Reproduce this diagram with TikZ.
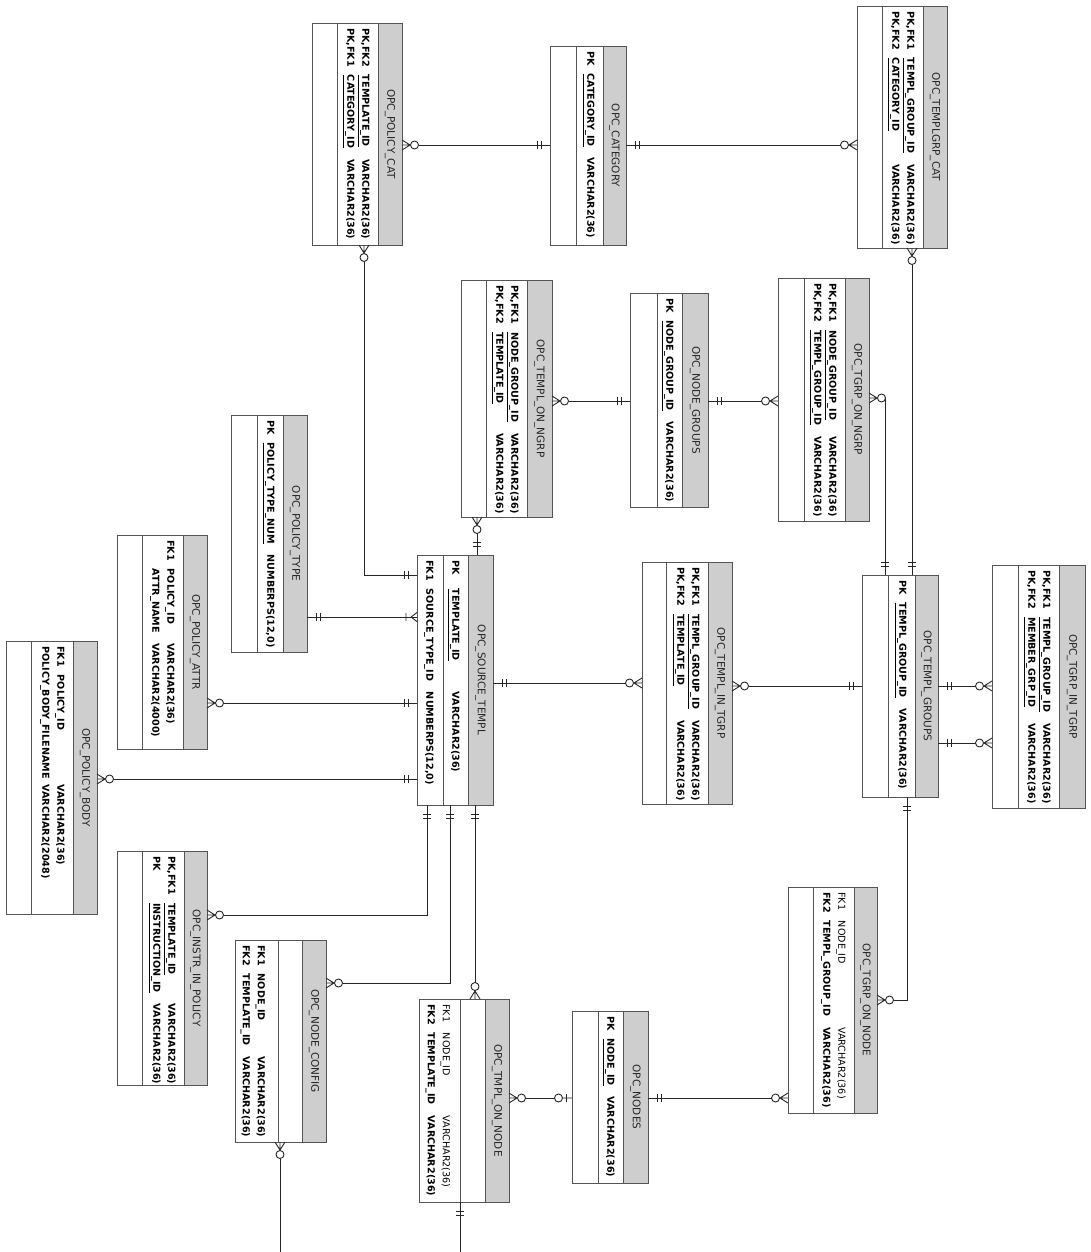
\documentclass[tikz,border=0pt]{standalone}
\usepackage{fontspec}
\setmainfont{DejaVu Sans}
\usepackage{tikz}
\usepackage{xcolor}
\definecolor{ERHeader}{RGB}{206, 206, 206}
\definecolor{ERLine}{RGB}{85, 85, 85}

% crow's foot ends
\pgfdeclarearrow{
  name = ERone,
  setup code = {
    \pgfarrowssettipend{0pt}
    \pgfarrowssetlineend{0pt}
    \pgfarrowssetbackend{-14pt}
    \pgfarrowssetvisualbackend{-14pt}
    \pgfarrowshullpoint{0pt}{4pt}
    \pgfarrowshullpoint{0pt}{-4pt}
    \pgfarrowshullpoint{-14pt}{4pt}
    \pgfarrowshullpoint{-14pt}{-4pt}
  },
  drawing code = {
    \pgfpathmoveto{\pgfqpoint{-9pt}{-4pt}}
    \pgfpathlineto{\pgfqpoint{-9pt}{4pt}}
    \pgfpathmoveto{\pgfqpoint{-13pt}{-4pt}}
    \pgfpathlineto{\pgfqpoint{-13pt}{4pt}}
    \pgfusepathqstroke
  }
}
\pgfdeclarearrow{
  name = ERmany,
  setup code = {
    \pgfarrowssettipend{0pt}
    \pgfarrowssetlineend{-16.5pt}
    \pgfarrowssetbackend{-16.5pt}
    \pgfarrowssetvisualbackend{-16.5pt}
    \pgfarrowshullpoint{0pt}{5pt}
    \pgfarrowshullpoint{0pt}{-5pt}
    \pgfarrowshullpoint{-16.5pt}{4pt}
    \pgfarrowshullpoint{-16.5pt}{-4pt}
  },
  drawing code = {
    \pgfpathmoveto{\pgfqpoint{-8pt}{0pt}}
    \pgfpathlineto{\pgfqpoint{0pt}{5pt}}
    \pgfpathmoveto{\pgfqpoint{-8pt}{0pt}}
    \pgfpathlineto{\pgfqpoint{0pt}{-5pt}}
    \pgfpathmoveto{\pgfqpoint{-8.5pt}{0pt}}
    \pgfpathlineto{\pgfqpoint{0pt}{0pt}}
    \pgfpathcircle{\pgfqpoint{-12.5pt}{0pt}}{4pt}
    \pgfusepathqstroke
  }
}
\pgfdeclarearrow{
  name = ERonemany,
  setup code = {
    \pgfarrowssettipend{0pt}
    \pgfarrowssetlineend{0pt}
    \pgfarrowssetbackend{-12pt}
    \pgfarrowssetvisualbackend{-12pt}
    \pgfarrowshullpoint{0pt}{5pt}
    \pgfarrowshullpoint{0pt}{-5pt}
    \pgfarrowshullpoint{-12pt}{4pt}
    \pgfarrowshullpoint{-12pt}{-4pt}
  },
  drawing code = {
    \pgfpathmoveto{\pgfqpoint{-6pt}{0pt}}
    \pgfpathlineto{\pgfqpoint{0pt}{4.5pt}}
    \pgfpathmoveto{\pgfqpoint{-6pt}{0pt}}
    \pgfpathlineto{\pgfqpoint{0pt}{-4.5pt}}
    \pgfpathmoveto{\pgfqpoint{-11pt}{-4pt}}
    \pgfpathlineto{\pgfqpoint{-11pt}{4pt}}
    \pgfusepathqstroke
  }
}
\pgfdeclarearrow{
  name = ERzeroone,
  setup code = {
    \pgfarrowssettipend{0pt}
    \pgfarrowssetlineend{-17.5pt}
    \pgfarrowssetbackend{-17.5pt}
    \pgfarrowssetvisualbackend{-17.5pt}
    \pgfarrowshullpoint{0pt}{4pt}
    \pgfarrowshullpoint{0pt}{-4pt}
    \pgfarrowshullpoint{-17.5pt}{4pt}
    \pgfarrowshullpoint{-17.5pt}{-4pt}
  },
  drawing code = {
    \pgfpathmoveto{\pgfqpoint{-9.5pt}{0pt}}
    \pgfpathlineto{\pgfqpoint{0pt}{0pt}}
    \pgfpathmoveto{\pgfqpoint{-5.5pt}{-4pt}}
    \pgfpathlineto{\pgfqpoint{-5.5pt}{4pt}}
    \pgfpathcircle{\pgfqpoint{-13.5pt}{0pt}}{4pt}
    \pgfusepathqstroke
  }
}

\newenvironment{erfields}{\begin{tabular}{@{}l@{\hspace{8pt}}l@{\hspace{11pt}}l@{}}}{\end{tabular}}

\tikzset{
  tbl/.style={rectangle, fill=white, inner sep=0pt, outer sep=0pt, anchor=north west},
  hdr/.style={fill=ERHeader},
  tblline/.style={draw=ERLine, line width=0.9pt},
  tbltitle/.style={rotate=-90, inner sep=0pt, font=\fontsize{10.5}{12}\selectfont, text=black!85},
  fields/.style={rotate=-90, anchor=north west, inner sep=0pt, font=\fontsize{9.6}{15}\selectfont\bfseries},
  rel/.style={draw=black!85, line width=0.9pt},
}

\begin{document}
\begin{tikzpicture}[x=1pt, y=-1pt]

\useasboundingbox (0,0) rectangle (1091,1252);
\fill[white] (0,0) rectangle (1091,1252);

% the tables, header strip on the right
\foreach \tb/\x/\y/\w/\h/\hw/\dv/\ttl in {
    pcat/312/23/90/222/24/25/OPC\_POLICY\_CAT,
    cat/550/46/76/199/23/26/OPC\_CATEGORY,
    tgcat/857/6/90/242/24/25/OPC\_TEMPLGRP\_CAT,
    tngrp/461/280/91/237/25/25/OPC\_TEMPL\_ON\_NGRP,
    ngrp/630/293/78/214/26/27/OPC\_NODE\_GROUPS,
    tgngrp/778/278/91/243/24/26/OPC\_TGRP\_ON\_NGRP,
    ptype/231/415/76/237/24/26/OPC\_POLICY\_TYPE,
    pattr/117/535/90/214/24/25/OPC\_POLICY\_ATTR,
    stempl/417/555/76/250/25/26/OPC\_SOURCE\_TEMPL,
    pbody/6/641/91/273/24/25/OPC\_POLICY\_BODY,
    tintg/642/562/90/242/24/24/OPC\_TEMPL\_IN\_TGRP,
    tgroups/862/575/76/222/23/26/OPC\_TEMPL\_GROUPS,
    tgintg/992/565/93/243/26/26/OPC\_TGRP\_IN\_TGRP,
    instr/117/851/90/234/23/25/OPC\_INSTR\_IN\_POLICY,
    nconf/235/940/91/202/24/43/OPC\_NODE\_CONFIG,
    tmplnode/419/999/90/203/24/41/OPC\_TMPL\_ON\_NODE,
    nodes/572/1011/76/172/25/26/OPC\_NODES,
    tgnode/788/887/89/226/23/25/OPC\_TGRP\_ON\_NODE} {
  \node[tbl, minimum width=\w pt, minimum height=\h pt] (\tb) at (\x,\y) {};
  \fill[hdr] ([xshift=-\hw pt]\tb.north east) rectangle (\tb.south east);
  \draw[tblline] ([xshift=-\hw pt]\tb.north east) -- ([xshift=-\hw pt]\tb.south east)
    ([xshift=\dv pt]\tb.north west) -- ([xshift=\dv pt]\tb.south west)
    (\tb.north west) rectangle (\tb.south east);
  \node[tbltitle] (\tb t) at ([xshift=-0.5*\hw pt]\tb.east) {\ttl};
}

% columns
\node[fields] (pcatf) at ([xshift=-29pt, yshift=-5pt]pcat.north east) {\begin{erfields}
PK,FK2 & \underline{TEMPLATE\_ID} & VARCHAR2(36)\\
PK,FK1 & \underline{CATEGORY\_ID} & VARCHAR2(36)
\end{erfields}};
\node[fields] (catf) at ([xshift=-28pt, yshift=-5pt]cat.north east) {\begin{erfields}
PK & \underline{CATEGORY\_ID} & VARCHAR2(36)
\end{erfields}};
\node[fields] (tgcatf) at ([xshift=-29pt, yshift=-5pt]tgcat.north east) {\begin{erfields}
PK,FK1 & \underline{TEMPL\_GROUP\_ID} & VARCHAR2(36)\\
PK,FK2 & \underline{CATEGORY\_ID} & VARCHAR2(36)
\end{erfields}};
\node[fields] (tngrpf) at ([xshift=-30pt, yshift=-5pt]tngrp.north east) {\begin{erfields}
PK,FK1 & \underline{NODE\_GROUP\_ID} & VARCHAR2(36)\\
PK,FK2 & \underline{TEMPLATE\_ID} & VARCHAR2(36)
\end{erfields}};
\node[fields] (ngrpf) at ([xshift=-31pt, yshift=-5pt]ngrp.north east) {\begin{erfields}
PK & \underline{NODE\_GROUP\_ID} & VARCHAR2(36)
\end{erfields}};
\node[fields] (tgngrpf) at ([xshift=-29pt, yshift=-5pt]tgngrp.north east) {\begin{erfields}
PK,FK1 & \underline{NODE\_GROUP\_ID} & VARCHAR2(36)\\
PK,FK2 & \underline{TEMPL\_GROUP\_ID} & VARCHAR2(36)
\end{erfields}};
\node[fields] (ptypef) at ([xshift=-29pt, yshift=-5pt]ptype.north east) {\begin{erfields}
PK & \underline{POLICY\_TYPE\_NUM} & NUMBERPS(12,0)
\end{erfields}};
\node[fields] (pattrf) at ([xshift=-29pt, yshift=-5pt]pattr.north east) {\begin{erfields}
FK1 & POLICY\_ID & VARCHAR2(36)\\
 & ATTR\_NAME & VARCHAR2(4000)
\end{erfields}};
\node[fields] (stemplf) at ([xshift=-30pt, yshift=-5pt]stempl.north east) {\begin{erfields}
PK & \underline{TEMPLATE\_ID} & VARCHAR2(36)\\[11pt]
FK1 & SOURCE\_TYPE\_ID & NUMBERPS(12,0)
\end{erfields}};
\node[fields] (pbodyf) at ([xshift=-29pt, yshift=-5pt]pbody.north east) {\begin{erfields}
FK1 & POLICY\_ID & VARCHAR2(36)\\
\multicolumn{2}{@{}l}{POLICY\_BODY\_FILENAME\hspace{30pt}} & VARCHAR2(2048)
\end{erfields}};
\node[fields] (tintgf) at ([xshift=-29pt, yshift=-5pt]tintg.north east) {\begin{erfields}
PK,FK1 & \underline{TEMPL\_GROUP\_ID} & VARCHAR2(36)\\
PK,FK2 & \underline{TEMPLATE\_ID} & VARCHAR2(36)
\end{erfields}};
\node[fields] (tgroupsf) at ([xshift=-28pt, yshift=-5pt]tgroups.north east) {\begin{erfields}
PK & \underline{TEMPL\_GROUP\_ID} & VARCHAR2(36)
\end{erfields}};
\node[fields] (tgintgf) at ([xshift=-31pt, yshift=-5pt]tgintg.north east) {\begin{erfields}
PK,FK1 & \underline{TEMPL\_GROUP\_ID} & VARCHAR2(36)\\
PK,FK2 & \underline{MEMBER\_GRP\_ID} & VARCHAR2(36)
\end{erfields}};
\node[fields] (instrf) at ([xshift=-28pt, yshift=-5pt]instr.north east) {\begin{erfields}
PK,FK1 & \underline{TEMPLATE\_ID} & VARCHAR2(36)\\
PK & \underline{INSTRUCTION\_ID} & VARCHAR2(36)
\end{erfields}};
\node[fields] (nconff) at ([xshift=33.5pt, yshift=-5pt]nconf.north west) {\begin{erfields}
FK1 & NODE\_ID & VARCHAR2(36)\\
FK2 & TEMPLATE\_ID & VARCHAR2(36)
\end{erfields}};
\node[fields] (tmplnodef) at ([xshift=34.5pt, yshift=-5pt]tmplnode.north west) {\begin{erfields}
\mdseries FK1 & \mdseries NODE\_ID & \mdseries VARCHAR2(36)\\
FK2 & TEMPLATE\_ID & VARCHAR2(36)
\end{erfields}};
\node[fields] (nodesf) at ([xshift=-30pt, yshift=-5pt]nodes.north east) {\begin{erfields}
PK & \underline{NODE\_ID} & VARCHAR2(36)
\end{erfields}};
\node[fields] (tgnodef) at ([xshift=-28pt, yshift=-5pt]tgnode.north east) {\begin{erfields}
\mdseries FK1 & \mdseries NODE\_ID & \mdseries VARCHAR2(36)\\
FK2 & TEMPL\_GROUP\_ID & VARCHAR2(36)
\end{erfields}};

% free ends at the bottom edge
\coordinate (nconfend) at (280,1252);
\coordinate (tmplnodeend) at (460,1252);

% relationships
\draw[rel, {ERmany}-{ERone}] (pcat.east |- 0,145) -- (cat.west |- 0,145);
\draw[rel, {ERone}-{ERmany}] (cat.east |- 0,145) -- (tgcat.west |- 0,145);
\draw[rel, {ERmany}-{ERone}] (pcat.south -| 364,0) |- (stempl.west |- 0,575);
\draw[rel, {ERmany}-{ERone}] (tgcat.south -| 912,0) -- (tgroups.north -| 912,0);
\draw[rel, {ERmany}-{ERone}] (tngrp.east |- 0,401) -- (ngrp.west |- 0,401);
\draw[rel, {ERone}-{ERmany}] (ngrp.east |- 0,401) -- (tgngrp.west |- 0,401);
\draw[rel, {ERmany}-{ERone}] (tgngrp.east |- 0,398) -| (tgroups.north -| 885,0);
\draw[rel, {ERmany}-{ERone}] (tngrp.south -| 477,0) -- (stempl.north -| 477,0);
\draw[rel, {ERone}-{ERonemany}] (ptype.east |- 0,617) -- (stempl.west |- 0,617);
\draw[rel, {ERmany}-{ERone}] (pattr.east |- 0,703) -- (stempl.west |- 0,703);
\draw[rel, {ERmany}-{ERone}] (pbody.east |- 0,779) -- (stempl.west |- 0,779);
\draw[rel, {ERone}-{ERmany}] (stempl.east |- 0,683) -- (tintg.west |- 0,683);
\draw[rel, {ERmany}-{ERone}] (tintg.east |- 0,686) -- (tgroups.west |- 0,686);
\draw[rel, {ERone}-{ERmany}] (tgroups.east |- 0,686) -- (tgintg.west |- 0,686);
\draw[rel, {ERone}-{ERmany}] (tgroups.east |- 0,743) -- (tgintg.west |- 0,743);
\draw[rel, {ERone}-{ERmany}] (stempl.south -| 427,0) |- (instr.east |- 0,915);
\draw[rel, {ERone}-{ERmany}] (stempl.south -| 450,0) |- (nconf.east |- 0,983);
\draw[rel, {ERone}-{ERmany}] (stempl.south -| 475,0) -- (tmplnode.north -| 475,0);
\draw[rel, {ERmany}-{ERzeroone}] (tmplnode.east |- 0,1098) -- (nodes.west |- 0,1098);
\draw[rel, {ERone}-{ERmany}] (nodes.east |- 0,1098) -- (tgnode.west |- 0,1098);
\draw[rel, {ERmany}-{ERone}] (tgnode.east |- 0,1000) -| (tgroups.south -| 907,0);
\draw[rel, {ERmany}-] (nconf.south -| nconfend) -- (nconfend);
\draw[rel, {ERone}-] (tmplnode.south -| tmplnodeend) -- (tmplnodeend);

\end{tikzpicture}
\end{document}
